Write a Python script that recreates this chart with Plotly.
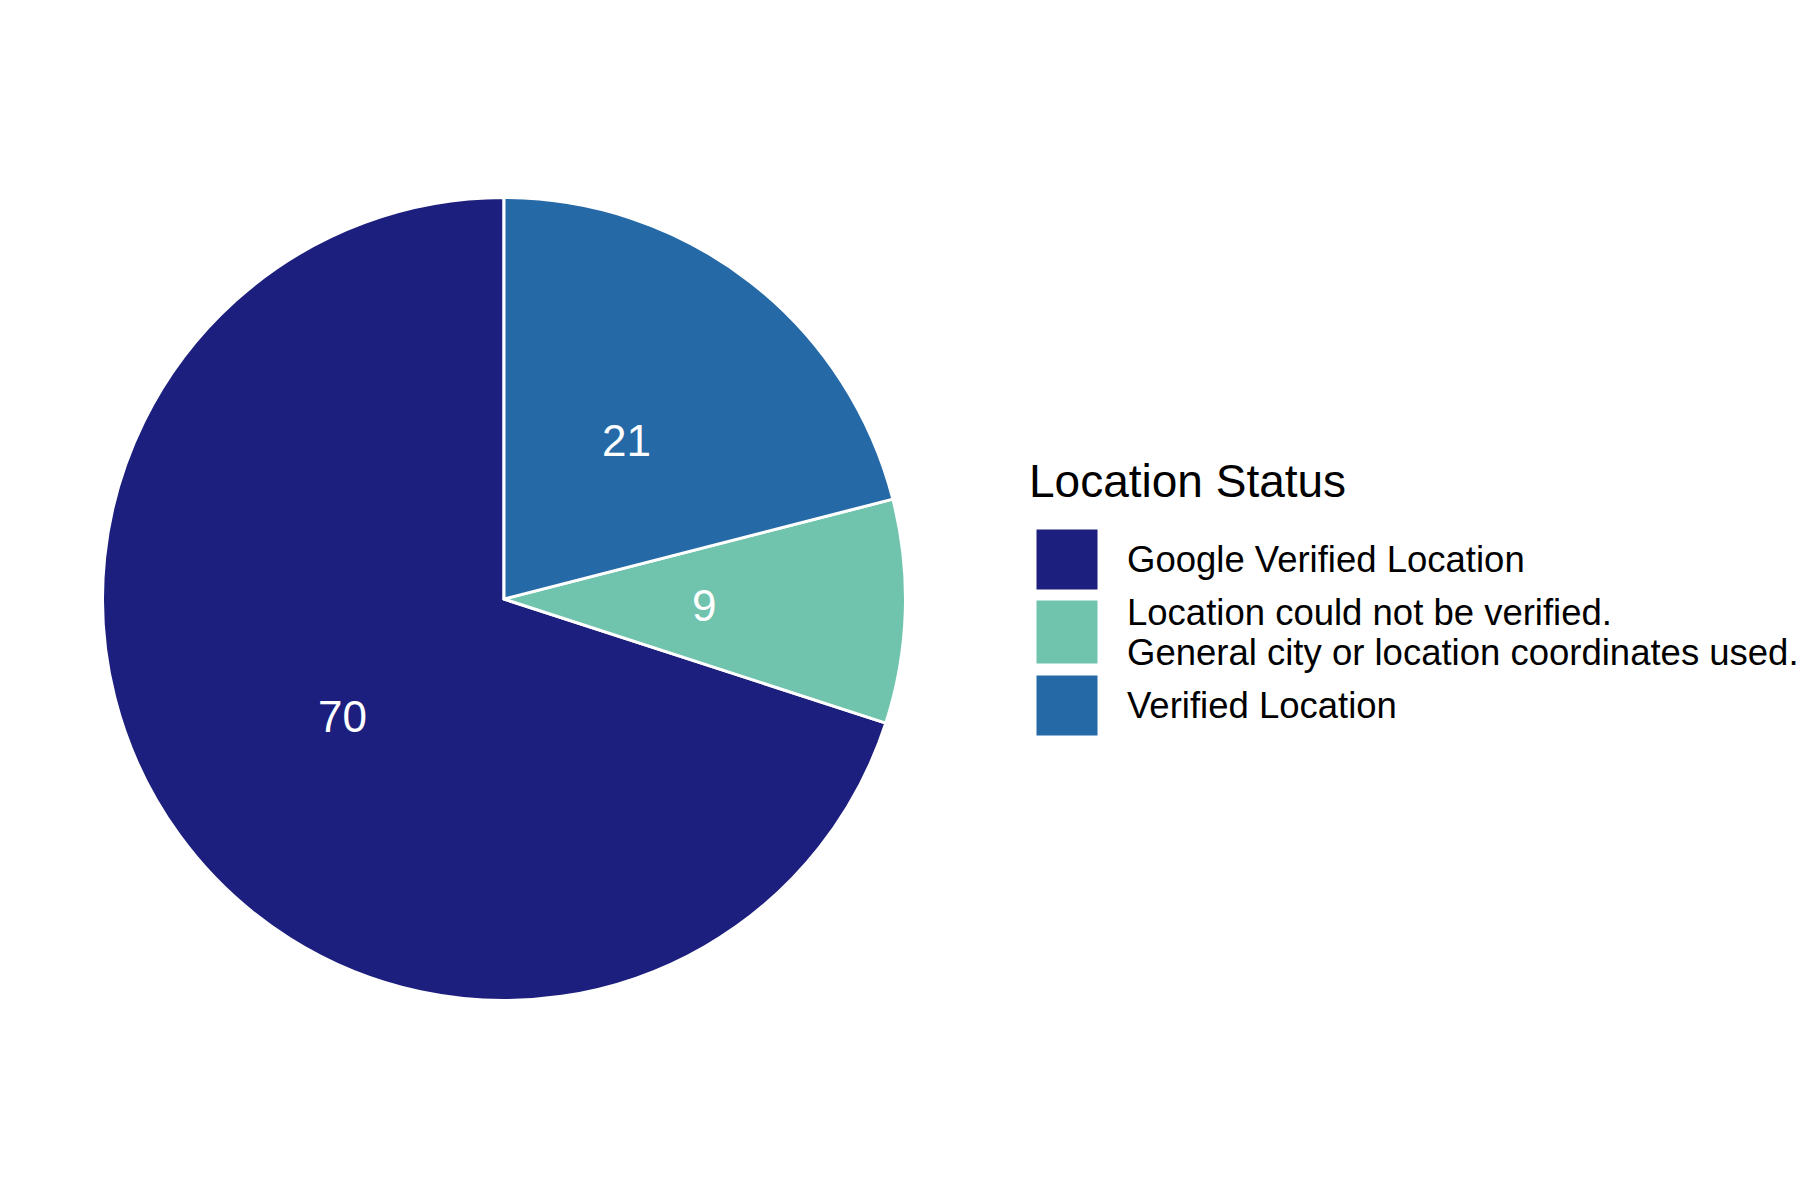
import math
import plotly.graph_objects as go

# ---- data ----
categories = [
    "Google Verified Location",
    "Location could not be verified.\nGeneral city or location coordinates used.",
    "Verified Location",
]
values = [70, 9, 21]
colors = ["#1D1F7E", "#70C4AD", "#2569A7"]
legend_title = "Location Status"

W, H = 1800, 1200
FONT = "Liberation Sans, Arial, sans-serif"

# pie geometry (pixels)
cx, cy, R = 504, 599, 401.5


def px(x):
    return x / W


def py(y):
    return 1 - y / H


total = sum(values)
# first slice starts at 12 o'clock and runs counterclockwise
rotation = 360 - 360 * values[0] / total

fig = go.Figure()
fig.add_trace(go.Pie(
    labels=[c.replace("\n", " ") for c in categories],
    values=values,
    sort=False,
    direction="counterclockwise",
    rotation=rotation,
    marker=dict(colors=colors, line=dict(color="white", width=3)),
    textinfo="none",
    hoverinfo="label+value",
    showlegend=False,
    domain=dict(x=[px(cx - R), px(cx + R)], y=[py(cy + R), py(cy - R)]),
))

annotations = []
shapes = []

# slice value labels at half radius, mid-angle
cum = 0
for v in values:
    mid = math.radians(90 + 360 * (cum + v / 2) / total)
    lx = cx + 0.5 * 400 * math.cos(mid)
    ly = cy - 0.5 * 400 * math.sin(mid)
    annotations.append(dict(
        x=px(lx), y=py(ly), xref="paper", yref="paper",
        text=str(v), showarrow=False, xanchor="center", yanchor="middle",
        font=dict(family=FONT, size=44, color="white"),
    ))
    cum += v

# legend title
annotations.append(dict(
    x=px(1027), y=py(481), xref="paper", yref="paper",
    text=legend_title, showarrow=False, xanchor="left", yanchor="middle",
    font=dict(family=FONT, size=46, color="black"),
))

# legend keys + labels
key_x0, key_x1 = 1036, 1098
key_tops = [529, 600, 675]
key_heights = [61, 64, 61]
line_gap = 40
for cat, col, top, h in zip(categories, colors, key_tops, key_heights):
    shapes.append(dict(
        type="rect", xref="paper", yref="paper",
        x0=px(key_x0), x1=px(key_x1), y0=py(top + h), y1=py(top),
        fillcolor=col, line=dict(color="white", width=1),
    ))
    lines = cat.split("\n")
    center = top + h / 2
    start = center - (len(lines) - 1) * line_gap / 2
    for i, ln in enumerate(lines):
        annotations.append(dict(
            x=px(1125), y=py(start + i * line_gap), xref="paper", yref="paper",
            text=ln, showarrow=False, xanchor="left", yanchor="middle",
            font=dict(family=FONT, size=36.5, color="black"),
        ))

fig.update_layout(
    width=W, height=H,
    margin=dict(l=0, r=0, t=0, b=0),
    paper_bgcolor="white",
    plot_bgcolor="white",
    annotations=annotations,
    shapes=shapes,
    showlegend=False,
    font=dict(family=FONT),
)

fig.write_html("out.html")
